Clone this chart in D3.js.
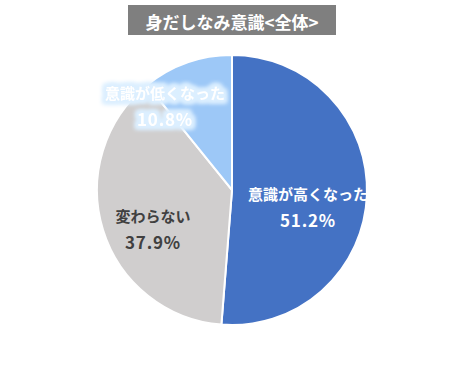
<!DOCTYPE html>
<html>
<head>
<meta charset="utf-8">
<script src="https://cdn.jsdelivr.net/npm/d3@7"></script>
<style>
  body { margin: 0; background: #fff; }
  text { font-family: "Noto Sans CJK JP", "Noto Sans", sans-serif; font-weight: bold; }
</style>
</head>
<body>
<svg id="chart" width="465" height="372"></svg>
<script>
// chart data
var categories = ["意識が高くなった", "変わらない", "意識が低くなった"];
var values = [51.2, 37.9, 10.8];
var colors = ["#4472c4", "#d0cece", "#9dc8f7"];
var title = "身だしなみ意識<全体>";

var svg = d3.select("#chart");

// title box
svg.append("rect")
    .attr("x", 128).attr("y", 5)
    .attr("width", 208).attr("height", 30)
    .attr("fill", "#7f7f7f");
svg.append("text")
    .attr("x", 232).attr("y", 21)
    .attr("text-anchor", "middle")
    .attr("dominant-baseline", "central")
    .attr("fill", "#fff")
    .attr("font-size", 17)
    .text(title);

// glow filter for the light blue label
var defs = svg.append("defs");
var glow = defs.append("filter").attr("id", "glow").attr("x", "-20%").attr("y", "-50%").attr("width", "140%").attr("height", "200%");
glow.append("feMorphology").attr("in", "SourceAlpha").attr("operator", "dilate").attr("radius", 2.5).attr("result", "d");
glow.append("feGaussianBlur").attr("in", "d").attr("stdDeviation", 2.2).attr("result", "b");
glow.append("feFlood").attr("flood-color", "#dcefff");
glow.append("feComposite").attr("in2", "b").attr("operator", "in").attr("result", "c");
var merge = glow.append("feMerge");
merge.append("feMergeNode").attr("in", "c");
merge.append("feMergeNode").attr("in", "c");
merge.append("feMergeNode").attr("in", "SourceGraphic");

var cx = 232, cy = 190, radius = 135;
var pieGrp = svg.append("g").attr("transform", `translate(${cx}, ${cy})`);

var pie = d3.pie().sort(null).value(d => d);
var arc = d3.arc().innerRadius(0).outerRadius(radius);

pieGrp.selectAll("path").data(pie(values)).enter().append("path")
    .attr("d", arc)
    .attr("fill", (d, i) => colors[i])
    .attr("stroke", "#fff")
    .attr("stroke-width", 2);

// label anchors relative to pie centre
var labelStyle = [
    { dx: 76, dy: 15, color: "#fff", filter: null },
    { dx: -79, dy: 37, color: "#404040", filter: null },
    { dx: -67, dy: -86, color: "#fff", filter: "url(#glow)" }
];

pie(values).forEach(function(d, i) {
    var s = labelStyle[i];
    var g = pieGrp.append("g").attr("transform", `translate(${s.dx}, ${s.dy})`);
    if (s.filter) g.attr("filter", s.filter);
    g.append("text")
        .attr("text-anchor", "middle")
        .attr("y", -12)
        .attr("dominant-baseline", "central")
        .attr("font-size", 15)
        .attr("fill", s.color)
        .text(categories[i]);
    g.append("text")
        .attr("text-anchor", "middle")
        .attr("y", 14)
        .attr("dominant-baseline", "central")
        .attr("font-size", 17)
        .attr("letter-spacing", 0.8)
        .attr("fill", s.color)
        .text(values[i].toFixed(1) + "%");
});
</script>
</body>
</html>
